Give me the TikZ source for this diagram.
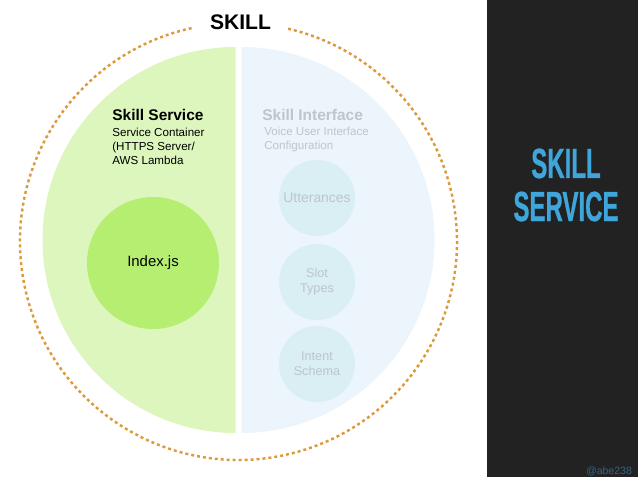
\documentclass[tikz,border=0pt]{standalone}
\usepackage{fontspec}
\setmainfont{Liberation Sans}
\newfontfamily\narrowfont[FakeStretch=0.57,FakeBold=0.6]{Liberation Sans Bold}
\usetikzlibrary{positioning}
\definecolor{halfgreen}{HTML}{DDF6BD}
\definecolor{coregreen}{HTML}{B5EE70}
\definecolor{halfblue}{HTML}{EBF5FB}
\definecolor{coreblue}{HTML}{D9EFF3}
\definecolor{fadetext}{HTML}{BEC5CB}
\definecolor{ringorange}{HTML}{DD9A3C}
\definecolor{panelgray}{HTML}{222222}
\definecolor{titleblue}{HTML}{3FA6DB}
\definecolor{handleblue}{HTML}{2F6585}

\begin{document}
\begin{tikzpicture}[
    % GLOBAL CFG
    font=\fontsize{6.6}{8}\selectfont,
    % Styles
    ring/.style={
        ringorange,
        line width=1.4pt,
        dash pattern=on 1.7pt off 1.7pt,
    },
    heading/.style={
        font=\fontsize{8.8}{11}\selectfont\bfseries,
        inner sep=0pt,
    },
    blurb/.style={
        font=\fontsize{6.6}{8}\selectfont,
        align=left,
        inner sep=0pt,
    },
    bigcore/.style={
        circle,
        fill=coregreen,
        minimum width=2.64cm,
        inner sep=0pt,
        font=\fontsize{8.5}{10}\selectfont,
    },
    smallcore/.style={
        circle,
        fill=coreblue,
        text=fadetext,
        minimum width=1.52cm,
        inner sep=0pt,
        align=center,
        font=\fontsize{7.2}{8.5}\selectfont,
    },
    faded/.style={
        text=fadetext,
    },
    paneltitle/.style={
        text=titleblue,
        align=center,
        inner sep=0pt,
        font=\fontsize{24}{24.5}\narrowfont,
    },
]

    % Frame and right panel
    \useasboundingbox (-4.77,-4.75) rectangle (7.99,4.83);
    \fill [panelgray] (4.97,-4.71) rectangle (7.99,4.83);

    % Draw the dotted ring, open at the top
    \draw [ring] (102.4:4.37) arc (102.4:437.6:4.37);

    % Draw the two halves
    \fill [halfgreen] (-0.06,3.89) arc (90:270:3.86) -- cycle;
    \fill [halfblue] (0.06,3.89) arc (90:-90:3.86) -- cycle;

    % Draw title
    \node [font=\fontsize{12}{14}\selectfont\bfseries, inner sep=0pt] (skill) at (0.04,4.39) {SKILL};

    % Skill service side
    \node [heading, anchor=west] (service) at (-2.53,2.53) {Skill Service};
    \node [blurb, below=4pt of service.south west, anchor=north west] (container) {Service Container\\(HTTPS Server/\\AWS Lambda};
    \node [bigcore] (index) at (-1.71,-0.43) {Index.js};

    % Skill interface side
    \node [heading, faded, anchor=west] (interface) at (0.47,2.53) {Skill Interface};
    \node [blurb, faded, anchor=north west] (voice) at (0.51,2.29) {Voice User Interface\\Configuration};
    \node [smallcore, font=\fontsize{7.9}{9}\selectfont] (utter) at (1.57,0.87) {Utterances};
    \node [smallcore] (slot) at (1.57,-0.81) {Slot\\Types};
    \node [smallcore] (intent) at (1.57,-2.45) {Intent\\Schema};

    % Panel texts
    \node [paneltitle] (title) at (6.55,1.13) {SKILL\\SERVICE};
    \node [text=handleblue, inner sep=0pt, font=\fontsize{6}{7}\selectfont] (handle) at (7.41,-4.59) {@abe238};

\end{tikzpicture}
\end{document}
